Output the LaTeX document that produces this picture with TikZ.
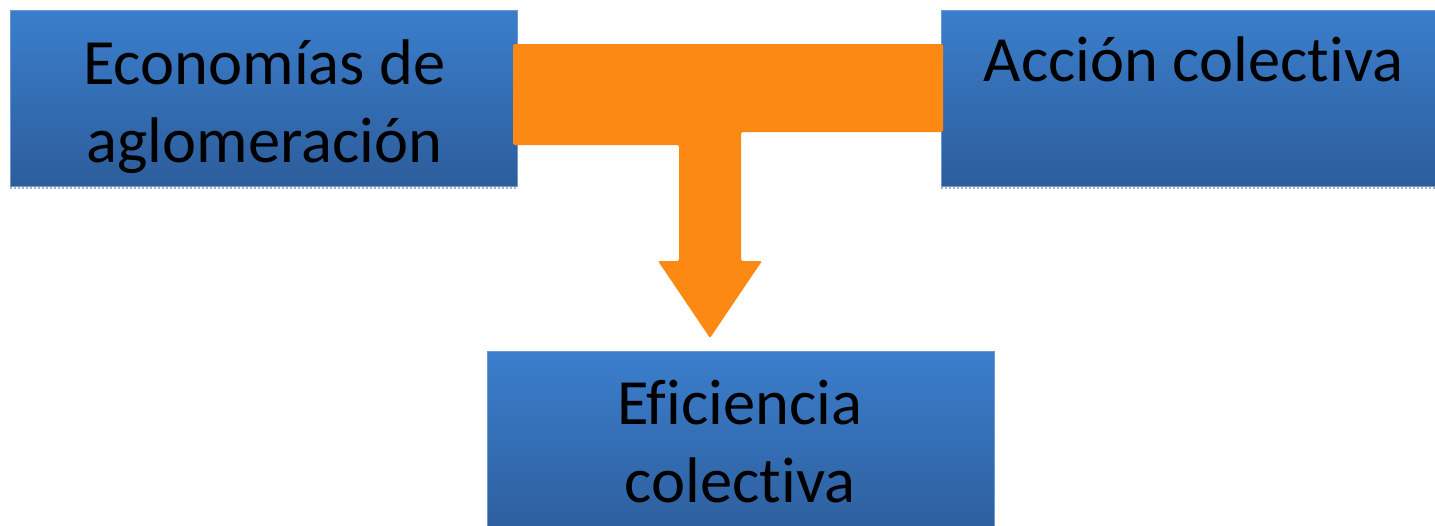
\documentclass[tikz,border=0pt]{standalone}
\usepackage{fontspec}
\setmainfont{Carlito}[RawFeature={-liga;-clig}]
\definecolor{boxtop}{HTML}{3B7ECC}
\definecolor{boxbot}{HTML}{2D5D9B}
\definecolor{boxedge}{HTML}{6A98D2}
\definecolor{arroworange}{HTML}{FC8913}
\begin{document}
\begin{tikzpicture}[x=1pt,y=-1pt,
  bluebox/.style={draw=boxedge, line width=1pt, top color=boxtop, bottom color=boxbot,
    minimum width=507pt, minimum height=176pt, inner sep=0pt, anchor=north west},
  shadowline/.style={draw=gray!60, line width=2pt, dotted},
  boxtext/.style={font=\fontsize{64.5}{78}\selectfont, text=black, anchor=base, inner sep=0pt},
  bigarrow/.style={fill=arroworange, draw=none, rounded corners=1.5pt}]
\useasboundingbox (0,0) rectangle (1435,525);
\clip (0,0) rectangle (1435,525);
% boxes
\node[bluebox] (eco) at (9.5,9.5) {};
\node[bluebox] (acc) at (941,9.5) {};
\node[bluebox, minimum height=190pt] (efi) at (486.5,350.5) {};
% shadows
\draw[shadowline] ([yshift=-1.5pt]eco.south west) -- ([yshift=-1.5pt]eco.south east);
\draw[shadowline] ([yshift=-1.5pt]acc.south west) -- ([yshift=-1.5pt]acc.south east);
% texts
\node[boxtext] (eco1) at (264.5,84) {Economías de};
\node[boxtext] (eco2) at (264.5,162) {aglomeración};
\node[boxtext] (acc1) at (1193.5,81) {Acción colectiva};
\node[boxtext] (efi1) at (740,424) {Eficiencia};
\node[boxtext] (efi2) at (740,502) {colectiva};
% orange T arrow
\fill[bigarrow] (513,44) -- (943,44) -- (943,132) -- (741,132) -- (741,261)
  -- (762,261) -- (710,338) -- (658,261) -- (679,261) -- (679,145) -- (513,145) -- cycle;
\end{tikzpicture}
\end{document}
